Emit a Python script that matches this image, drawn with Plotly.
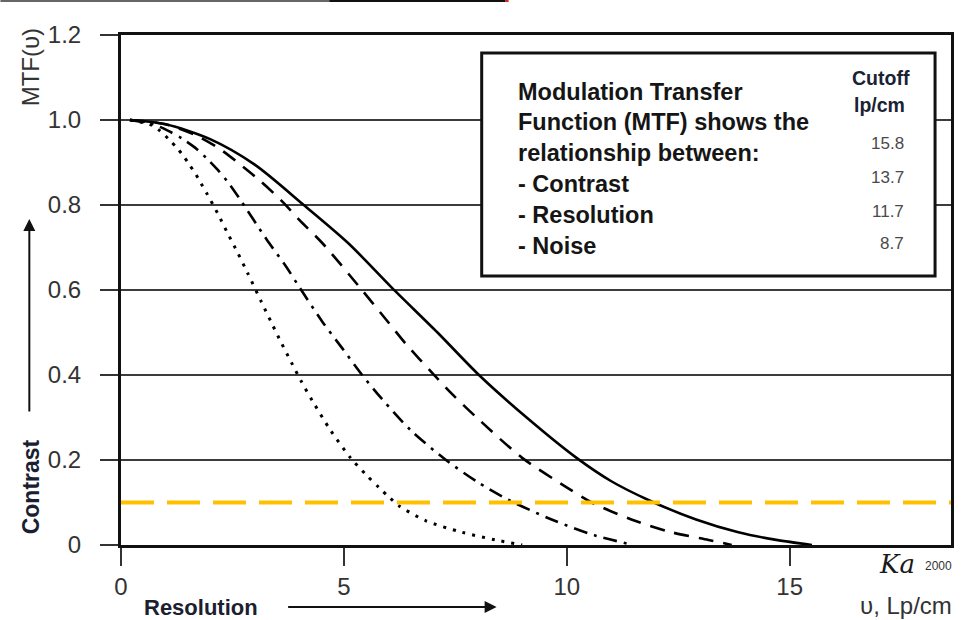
import plotly.graph_objects as go

# MTF curves (spatial frequency in lp/cm vs modulation), one per imaging system
freq_158 = [0.2, 1.0, 2.0, 3.0, 4.1, 5.1, 6.08, 7.1, 8.03, 9.1, 10.22, 11.0, 11.83,
            12.9, 13.85, 14.7, 15.5]
mtf_158 = [1.0, 0.99, 0.955, 0.895, 0.80, 0.71, 0.605, 0.50, 0.40, 0.30, 0.205, 0.15,
           0.106, 0.06, 0.03, 0.012, 0.0]

freq_137 = [0.2, 1.0, 1.66, 2.17, 2.62, 3.11, 3.62, 4.0, 4.52, 5.35, 5.95, 6.4, 6.98,
            7.43, 8.03, 9.0, 9.98, 10.56, 11.45, 12.35, 13.18, 13.7]
mtf_137 = [1.0, 0.99, 0.965, 0.935, 0.90, 0.858, 0.808, 0.765, 0.71, 0.607, 0.53, 0.472,
           0.405, 0.355, 0.295, 0.205, 0.137, 0.10, 0.06, 0.03, 0.012, 0.0]

freq_117 = [0.2, 0.72, 1.05, 1.36, 1.66, 1.92, 2.15, 2.39, 2.66, 3.26, 3.71, 4.0, 4.52,
            4.97, 5.41, 5.86, 6.5, 7.29, 8.0, 8.7, 9.66, 10.65, 11.5]
mtf_117 = [1.0, 0.99, 0.975, 0.957, 0.935, 0.91, 0.885, 0.855, 0.815, 0.72, 0.654, 0.607,
           0.525, 0.462, 0.40, 0.343, 0.27, 0.2, 0.148, 0.106, 0.06, 0.022, 0.0]

freq_87 = [0.2, 0.69, 0.87, 1.07, 1.25, 1.39, 1.52, 1.68, 1.79, 1.92, 2.17, 2.39, 2.62,
           2.84, 3.15, 3.38, 3.6, 3.83, 4.05, 4.3, 4.7, 5.15, 5.5, 5.79, 6.02, 6.24, 6.84,
           7.65, 8.4, 9.0]
mtf_87 = [1.0, 0.988, 0.975, 0.955, 0.935, 0.917, 0.897, 0.872, 0.852, 0.828, 0.78, 0.734,
          0.687, 0.64, 0.572, 0.522, 0.475, 0.428, 0.384, 0.338, 0.27, 0.205, 0.165, 0.135,
          0.112, 0.092, 0.057, 0.03, 0.012, 0.0]

threshold_mtf = 0.1
x_max = 18.62

cutoff_labels = ["15.8", "13.7", "11.7", "8.7"]
x_ticks = [0, 5, 10, 15]
y_ticks = [0, 0.2, 0.4, 0.6, 0.8, 1.0, 1.2]
y_tick_text = ["0", "0.2", "0.4", "0.6", "0.8", "1.0", "1.2"]
legend_lines = ["Modulation Transfer", "Function (MTF) shows the",
                "relationship between:", "- Contrast", "- Resolution", "- Noise"]

W, H = 961, 620
L, R, T, B = 121, 954, 35, 545


def px(x):
    return (x - L) / (R - L)


def py(y):
    return (B - y) / (B - T)


FONT = "Liberation Sans, Arial, sans-serif"
fig = go.Figure()

series = [
    (freq_158, mtf_158, "solid", 2.6),
    (freq_137, mtf_137, "15px,10px", 2.6),
    (freq_117, mtf_117, "14px,7px,3px,7px", 2.6),
    (freq_87, mtf_87, "3px,7px", 3.0),
]
for xs, ys, dash, lw in series:
    fig.add_trace(go.Scatter(x=xs, y=ys, mode="lines",
                             line=dict(color="black", width=lw, dash=dash,
                                       shape="spline", smoothing=0.8),
                             hoverinfo="skip", showlegend=False))

fig.add_trace(go.Scatter(x=[0, x_max], y=[threshold_mtf, threshold_mtf], mode="lines",
                         line=dict(color="#FFC000", width=4, dash="33px,13px"),
                         hoverinfo="skip", showlegend=False))

shapes = [
    # thin rule along the top edge of the page
    dict(type="rect", xref="paper", yref="paper", x0=px(0), x1=px(330), y0=py(2), y1=py(0),
         fillcolor="#666", line_width=0, layer="above"),
    dict(type="rect", xref="paper", yref="paper", x0=px(330), x1=px(507), y0=py(2), y1=py(0),
         fillcolor="#111", line_width=0, layer="above"),
    dict(type="rect", xref="paper", yref="paper", x0=px(507), x1=px(510), y0=py(2), y1=py(0),
         fillcolor="#e0201a", line_width=0, layer="above"),
    # explanatory text box
    dict(type="rect", xref="paper", yref="paper", x0=px(483), x1=px(938), y0=py(276), y1=py(53),
         fillcolor="white", line=dict(color="#111", width=3), layer="above"),
]

annotations = []
line_y = [92, 122, 153, 184, 215, 246]
for txt, yy in zip(legend_lines, line_y):
    annotations.append(dict(x=px(517), y=py(yy), xref="paper", yref="paper", text=f"<b>{txt}</b>",
                            showarrow=False, xanchor="left", yanchor="middle",
                            font=dict(family=FONT, size=23.5, color="#151515")))
annotations.append(dict(x=px(884), y=py(78), xref="paper", yref="paper", text="<b>Cutoff</b>",
                        showarrow=False, xanchor="center", yanchor="middle",
                        font=dict(family=FONT, size=19.5, color="#1a2333")))
annotations.append(dict(x=px(882), y=py(105), xref="paper", yref="paper", text="<b>lp/cm</b>",
                        showarrow=False, xanchor="center", yanchor="middle",
                        font=dict(family=FONT, size=19.5, color="#1a2333")))
for txt, yy in zip(cutoff_labels, [143, 177, 211, 243]):
    annotations.append(dict(x=px(909), y=py(yy), xref="paper", yref="paper", text=txt,
                            showarrow=False, xanchor="right", yanchor="middle",
                            font=dict(family=FONT, size=17, color="#4a4a4a")))

# axis captions
annotations += [
    dict(x=px(30), y=py(67), xref="paper", yref="paper", text="MTF(υ)", textangle=-90,
         showarrow=False, xanchor="center", yanchor="middle",
         font=dict(family=FONT, size=24, color="#333")),
    dict(x=px(31), y=py(487), xref="paper", yref="paper", text="<b>Contrast</b>", textangle=-90,
         showarrow=False, xanchor="center", yanchor="middle",
         font=dict(family=FONT, size=23, color="#1a2030")),
    dict(x=px(201), y=py(607), xref="paper", yref="paper", text="<b>Resolution</b>",
         showarrow=False, xanchor="center", yanchor="middle",
         font=dict(family=FONT, size=22, color="#1a2030")),
    dict(x=px(909), y=py(605), xref="paper", yref="paper", text="υ, Lp/cm",
         showarrow=False, xanchor="center", yanchor="middle",
         font=dict(family=FONT, size=24, color="#333")),
    dict(x=px(900), y=py(564), xref="paper", yref="paper", text="<i>Ka</i>",
         showarrow=False, xanchor="center", yanchor="middle",
         font=dict(family="DejaVu Serif, serif", size=26, color="#1a1a1a")),
    dict(x=px(941), y=py(566), xref="paper", yref="paper", text="2000",
         showarrow=False, xanchor="center", yanchor="middle",
         font=dict(family=FONT, size=12, color="#333")),
    # direction arrows
    dict(x=px(498), y=py(607), xref="paper", yref="paper", text="", showarrow=True,
         ax=-210, ay=0, arrowhead=2, arrowsize=1.2, arrowwidth=2, arrowcolor="#111"),
    dict(x=px(29), y=py(219), xref="paper", yref="paper", text="", showarrow=True,
         ax=0, ay=194, arrowhead=2, arrowsize=1.2, arrowwidth=2, arrowcolor="#111"),
]

fig.update_layout(
    width=W, height=H,
    margin=dict(l=L, r=W - R, t=T, b=H - B, pad=0),
    paper_bgcolor="white", plot_bgcolor="white",
    shapes=shapes, annotations=annotations,
    xaxis=dict(range=[0, x_max], tickvals=x_ticks, ticks="outside", ticklen=18,
               tickwidth=2, tickcolor="#333", showgrid=False, zeroline=False,
               showline=True, linecolor="#111", linewidth=3, mirror=True,
               ticklabelstandoff=0, tickfont=dict(family=FONT, size=24, color="#333")),
    yaxis=dict(range=[0, 1.2], tickvals=y_ticks, ticktext=y_tick_text, ticks="outside",
               ticklen=18, tickwidth=2, tickcolor="#333", showgrid=True, gridcolor="#3c3c3c",
               gridwidth=2, zeroline=False, showline=True, linecolor="#111", linewidth=3,
               mirror=True, ticklabelstandoff=14,
               tickfont=dict(family=FONT, size=24, color="#333")),
)

fig.write_html("out.html")
